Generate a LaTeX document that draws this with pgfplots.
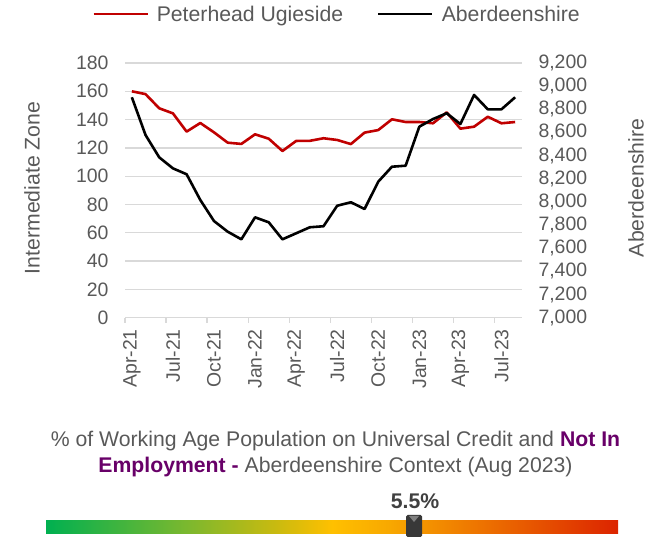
\documentclass[border=0pt]{standalone}
\usepackage{pgfplots}
\pgfplotsset{compat=1.18}
\usepackage{fontspec}
\setmainfont{Liberation Sans}
\definecolor{tgray}{HTML}{595959}
\definecolor{gridgray}{HTML}{D9D9D9}
\definecolor{cred}{HTML}{C00000}
\definecolor{cpurple}{HTML}{680068}
\definecolor{dgray}{HTML}{404040}
\definecolor{g0}{HTML}{00B050}
\definecolor{g1}{HTML}{7DB82E}
\definecolor{g2}{HTML}{C8BA10}
\definecolor{g3}{HTML}{FFC000}
\definecolor{g4}{HTML}{F8A800}
\definecolor{g5}{HTML}{F08000}
\definecolor{g6}{HTML}{DC2400}
% path box maps to 25bp..75bp of the 100bp shading
\pgfdeclarehorizontalshading{rag}{100bp}{color(0bp)=(g0); color(25bp)=(g0); color(37.5bp)=(g1); color(45bp)=(g2); color(50bp)=(g3); color(55bp)=(g4); color(61bp)=(g5); color(75bp)=(g6); color(100bp)=(g6)}
\newcommand{\fs}{\fontsize{19.5}{23}\selectfont}
\newcommand{\fb}{\fontsize{21.3}{25}\selectfont}
\begin{document}
\begin{tikzpicture}
\path[use as bounding box] (0,0) rectangle (667bp,537bp);
\begin{axis}[
  at={(125bp,219.3bp)}, anchor=south west,
  scale only axis, width=397bp, height=254.7bp,
  xmin=-0.5, xmax=28.5, ymin=0, ymax=180,
  ytick={0,20,40,60,80,100,120,140,160,180},
  ymajorgrids, grid style={draw=gridgray, line width=1.3bp},
  axis x line*=bottom, axis y line*=left,
  y axis line style={draw=none},
  x axis line style={draw=gridgray, line width=1.3bp, -},
  xtick={0,3,6,9,12,15,18,21,24,27},
  xticklabels={Apr-21,Jul-21,Oct-21,Jan-22,Apr-22,Jul-22,Oct-22,Jan-23,Apr-23,Jul-23},
  minor xtick={-0.5,2.5,5.5,8.5,11.5,14.5,17.5,20.5,23.5,26.5},
  major tick length=0pt, minor tick length=5bp, tick align=outside,
  minor tick style={draw=gridgray, line width=1.3bp},
  tick label style={font=\fs, text=tgray},
  /pgf/number format/assume math mode=true,
  xticklabel style={rotate=90, anchor=east},
  xticklabel shift=8bp,
  yticklabel shift=13bp,
  clip=false,
]
\addplot[cred, line width=2.6bp, line join=round] coordinates {
(0,160) (1,158) (2,148) (3,144.4) (4,131.5) (5,137.6) (6,131) (7,123.7) (8,122.8) (9,129.6)
(10,126.5) (11,117.8) (12,124.9) (13,125) (14,126.8) (15,125.6) (16,122.7) (17,130.8) (18,132.6) (19,140.2)
(20,138.3) (21,138.3) (22,137.4) (23,145.1) (24,133.6) (25,135) (26,142) (27,137.4) (28,138.3)};
\end{axis}
\begin{axis}[
  at={(125bp,219.3bp)}, anchor=south west,
  scale only axis, width=397bp, height=254.7bp,
  xmin=-0.5, xmax=28.5, ymin=7000, ymax=9200,
  ytick={7000,7200,7400,7600,7800,8000,8200,8400,8600,8800,9000,9200},
  axis y line*=right, axis x line=none,
  y axis line style={draw=none},
  major tick length=0pt,
  scaled y ticks=false,
  yticklabel style={/pgf/number format/.cd, 1000 sep={,}},
  tick label style={font=\fs, text=tgray},
  /pgf/number format/assume math mode=true,
  yticklabel shift=13bp,
  legend columns=2,
  legend style={at={(0.534,1.192)}, anchor=center, draw=none, fill=none, font=\fb, text=tgray,
    /tikz/every odd column/.style={column sep=6bp},
    /tikz/every even column/.style={column sep=32bp}},
  legend image code/.code={\draw[#1] (0bp,0bp) -- (54bp,0bp);},
  clip=false,
]
\addlegendimage{cred, line width=2.6bp}
\addlegendentry{Peterhead Ugieside}
\addplot[black, line width=2.6bp, line join=round] coordinates {
(0,8904) (1,8578) (2,8385) (3,8290) (4,8239) (5,8017) (6,7835) (7,7743) (8,7677) (9,7867)
(10,7824) (11,7677) (12,7729) (13,7781) (14,7790) (15,7967) (16,7997) (17,7939) (18,8175) (19,8304)
(20,8313) (21,8650) (22,8716) (23,8766) (24,8673) (25,8924) (26,8800) (27,8800) (28,8904)};
\addlegendentry{Aberdeenshire}
\end{axis}
\node[rotate=90, font=\fb, text=tgray] at (32bp,349bp) {Intermediate Zone};
\node[rotate=90, font=\fb, text=tgray] at (636bp,349bp) {Aberdeenshire};
\node[anchor=base, font=\fb, text=tgray, inner sep=0] at (335.5bp,90bp) {\% of Working Age Population on Universal Credit and \textbf{\color{cpurple}Not In}};
\node[anchor=base, font=\fb, text=tgray, inner sep=0] at (335.5bp,64bp) {\textbf{\color{cpurple}Employment -} Aberdeenshire Context (Aug 2023)};
\node[anchor=base, font=\fb\bfseries, text=dgray, inner sep=0] at (415bp,29bp) {5.5\%};
\shade[shading=rag] (46bp,3bp) rectangle (618bp,16bp);
\fill[black!78, rounded corners=1.5bp] (406bp,0bp) rectangle (422bp,22bp);
\fill[black!50] (409bp,21bp) -- (419bp,21bp) -- (414bp,15bp) -- cycle;
\end{tikzpicture}
\end{document}
